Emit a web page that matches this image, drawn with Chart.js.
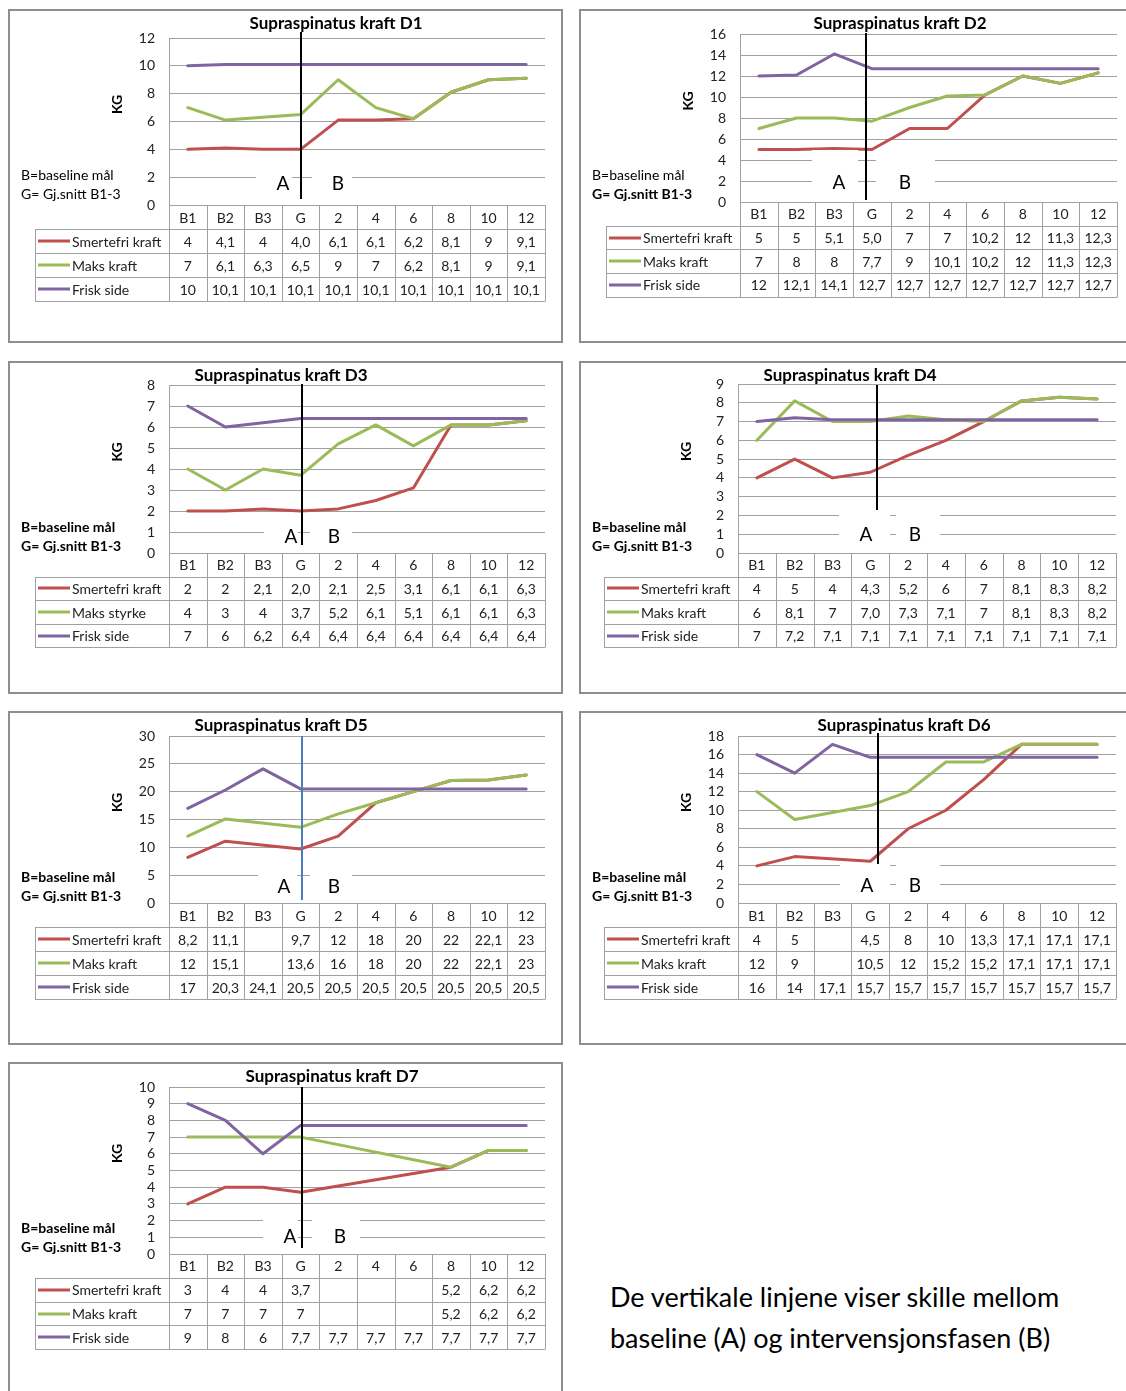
<!DOCTYPE html>
<html><head><meta charset="utf-8">
<script src="https://cdn.jsdelivr.net/npm/chart.js@4.4.1/dist/chart.umd.min.js"></script>
<style>
html,body{margin:0;padding:0;background:#fff;overflow:hidden;width:1126px;height:1391px;position:relative;font-family:Lato,sans-serif}
.panel{position:absolute;box-sizing:border-box;border:2px solid #8e8e8e;background:#fff}
canvas{position:absolute}
#note{position:absolute;left:610px;top:1276px;font-size:27px;line-height:41px;color:#000;white-space:nowrap;font-family:Lato,sans-serif}
</style></head><body>
<div id="note">De vertikale linjene viser skille mellom<br>baseline (A) og intervensjonsfasen (B)</div>
<script>
const categories = ["B1","B2","B3","G","2","4","6","8","10","12"];
const seriesNames = ["Smertefri kraft","Maks kraft","Frisk side"];
const seriesNamesD3 = ["Smertefri kraft","Maks styrke","Frisk side"];
const seriesColors = ["#c0504d","#9bbb59","#8064a2"];

const d1Smertefri = ["4","4,1","4","4,0","6,1","6,1","6,2","8,1","9","9,1"];
const d1Maks      = ["7","6,1","6,3","6,5","9","7","6,2","8,1","9","9,1"];
const d1Frisk     = ["10","10,1","10,1","10,1","10,1","10,1","10,1","10,1","10,1","10,1"];

const d2Smertefri = ["5","5","5,1","5,0","7","7","10,2","12","11,3","12,3"];
const d2Maks      = ["7","8","8","7,7","9","10,1","10,2","12","11,3","12,3"];
const d2Frisk     = ["12","12,1","14,1","12,7","12,7","12,7","12,7","12,7","12,7","12,7"];

const d3Smertefri = ["2","2","2,1","2,0","2,1","2,5","3,1","6,1","6,1","6,3"];
const d3Maks      = ["4","3","4","3,7","5,2","6,1","5,1","6,1","6,1","6,3"];
const d3Frisk     = ["7","6","6,2","6,4","6,4","6,4","6,4","6,4","6,4","6,4"];

const d4Smertefri = ["4","5","4","4,3","5,2","6","7","8,1","8,3","8,2"];
const d4Maks      = ["6","8,1","7","7,0","7,3","7,1","7","8,1","8,3","8,2"];
const d4Frisk     = ["7","7,2","7,1","7,1","7,1","7,1","7,1","7,1","7,1","7,1"];

const d5Smertefri = ["8,2","11,1","","9,7","12","18","20","22","22,1","23"];
const d5Maks      = ["12","15,1","","13,6","16","18","20","22","22,1","23"];
const d5Frisk     = ["17","20,3","24,1","20,5","20,5","20,5","20,5","20,5","20,5","20,5"];

const d6Smertefri = ["4","5","","4,5","8","10","13,3","17,1","17,1","17,1"];
const d6Maks      = ["12","9","","10,5","12","15,2","15,2","17,1","17,1","17,1"];
const d6Frisk     = ["16","14","17,1","15,7","15,7","15,7","15,7","15,7","15,7","15,7"];

const d7Smertefri = ["3","4","4","3,7","","","","5,2","6,2","6,2"];
const d7Maks      = ["7","7","7","7","","","","5,2","6,2","6,2"];
const d7Frisk     = ["9","8","6","7,7","7,7","7,7","7,7","7,7","7,7","7,7"];

const yMaxes = [12,16,8,9,30,18,10];
const ySteps = [2,2,1,1,5,2,1];
const titles = ["Supraspinatus kraft D1","Supraspinatus kraft D2","Supraspinatus kraft D3","Supraspinatus kraft D4","Supraspinatus kraft D5","Supraspinatus kraft D6","Supraspinatus kraft D7"];
const noteLines = ["B=baseline mål","G= Gj.snitt B1-3"];

function num(s){ return s === "" ? null : parseFloat(s.replace(",", ".")); }

const FONT = "Lato";
const gridColor = "#a0a0a0";

function panelPlugin(cfg){
  return {
    id: "panel" + cfg.idx,
    afterDatasetsDraw(chart){
      const ctx = chart.ctx, xs = chart.scales.x, ox = cfg.px, oy = cfg.py;
      ctx.save();
      const gx = Math.round(xs.getPixelForValue(categories.indexOf("G")) + cfg.vline.nudge);
      ctx.strokeStyle = cfg.vline.color; ctx.lineWidth = 2;
      ctx.beginPath(); ctx.moveTo(gx, cfg.vline.top - oy); ctx.lineTo(gx, cfg.vline.bottom - oy); ctx.stroke();
      ctx.fillStyle = "#fff";
      cfg.boxes.forEach(b => ctx.fillRect(b[0]-ox, b[1]-oy, b[2]-b[0], b[3]-b[1]));
      ctx.fillStyle = "#000"; ctx.font = "19px " + FONT; ctx.textAlign = "center"; ctx.textBaseline = "middle";
      ctx.fillText("A", cfg.A[0]-ox, cfg.A[1]-oy);
      ctx.fillText("B", cfg.B[0]-ox, cfg.B[1]-oy);
      ctx.restore();
    },
    afterDraw(chart){
      const ctx = chart.ctx, xs = chart.scales.x, ca = chart.chartArea, ox = cfg.px, oy = cfg.py;
      const n = categories.length, cw = ca.width / n, rh = cfg.rowH, top = ca.bottom;
      const legL = ca.left - 134;
      ctx.save();
      // title
      ctx.fillStyle = "#000"; ctx.font = "bold 17px " + FONT; ctx.textAlign = "center"; ctx.textBaseline = "middle";
      ctx.fillText(cfg.title, cfg.titleX - ox, 15);
      // KG
      ctx.save(); ctx.translate(ca.left - 52, (ca.top + ca.bottom)/2 - 17); ctx.rotate(-Math.PI/2);
      ctx.font = "bold 14px " + FONT; ctx.fillText("KG", 0, 0); ctx.restore();
      // notes
      ctx.textAlign = "left";
      noteLines.forEach((t,i) => {
        ctx.font = (cfg.bold[i] ? "bold " : "") + "14px " + FONT;
        ctx.fillText(t, 13, 166 + i*19);
      });
      // table lines
      ctx.strokeStyle = gridColor; ctx.lineWidth = 1;
      const line = (a,b,c,d) => { ctx.beginPath(); ctx.moveTo(a,b); ctx.lineTo(c,d); ctx.stroke(); };
      for (let i = 0; i <= n; i++){
        const xx = Math.round(xs.getPixelForValue(Math.min(i, n-1)) + (i === n ? cw/2 : -cw/2)) + 0.5;
        line(xx, top, xx, Math.round(top + 4*rh) + 0.5);
      }
      for (let k = 1; k <= 4; k++){
        const yy = Math.round(top + k*rh) + 0.5;
        line(legL, yy, ca.right, yy);
      }
      line(legL + 0.5, Math.round(top + rh), legL + 0.5, Math.round(top + 4*rh) + 0.5);
      // header text
      ctx.fillStyle = "#222"; ctx.font = "14px " + FONT; ctx.textAlign = "center";
      categories.forEach((c,i) => ctx.fillText(c, xs.getPixelForValue(i), top + rh/2 + 1));
      // rows
      cfg.series.forEach((s,k) => {
        const yy = top + (k + 1.5)*rh + 1;
        ctx.strokeStyle = seriesColors[k]; ctx.lineWidth = 3;
        line(legL + 3, Math.round(yy - 1), legL + 35, Math.round(yy - 1));
        ctx.textAlign = "left"; ctx.fillStyle = "#222";
        ctx.fillText(cfg.names[k], legL + 37, yy);
        ctx.textAlign = "center";
        s.forEach((v,i) => { if (v !== "") ctx.fillText(v, xs.getPixelForValue(i), yy); });
      });
      ctx.restore();
    }
  };
}

function makePanel(cfg){
  const div = document.createElement("div"); div.className = "panel";
  Object.assign(div.style, {left: cfg.px+"px", top: cfg.py+"px", width: cfg.w+"px", height: cfg.h+"px"});
  document.body.appendChild(div);
  const cv = document.createElement("canvas");
  cv.width = cfg.w; cv.height = cfg.h;
  Object.assign(cv.style, {left: cfg.px+"px", top: cfg.py+"px", width: cfg.w+"px", height: cfg.h+"px"});
  document.body.appendChild(cv);
  const yAxisW = cfg.plot.l - cfg.px;
  const datasets = cfg.series.map((s,i) => ({
    label: cfg.names[i], data: s.map(num), borderColor: seriesColors[i], backgroundColor: seriesColors[i],
    borderWidth: 3, pointRadius: 0, tension: 0, spanGaps: true, fill: false, order: 3 - i,
    borderJoinStyle: "round", borderCapStyle: "round"
  }));
  new Chart(cv, {
    type: "line",
    data: {labels: categories, datasets},
    options: {
      responsive: false, animation: false, devicePixelRatio: 1, events: [],
      layout: {padding: {left: 0, top: cfg.plot.t - cfg.py, right: cfg.px + cfg.w - cfg.plot.r, bottom: cfg.py + cfg.h - cfg.plot.b}},
      plugins: {legend: {display: false}, tooltip: {enabled: false}, title: {display: false}},
      scales: {
        x: {display: false, offset: true},
        y: {
          min: 0, max: cfg.yMax,
          ticks: {stepSize: cfg.yStep, autoSkip: false, maxTicksLimit: 40, padding: 14, color: "#222", font: {family: FONT, size: 14, lineHeight: 1}},
          grid: {color: gridColor, drawTicks: false, lineWidth: 1},
          border: {display: true, color: gridColor},
          afterFit: (s) => { s.width = yAxisW; }
        }
      }
    },
    plugins: [panelPlugin(cfg)]
  });
}

const panels = [
  {idx:0, px:8, py:9, w:555, h:334, plot:{l:169,r:545,t:38,b:205}, rowH:24, titleX:336,
   series:[d1Smertefri,d1Maks,d1Frisk], names:seriesNames, bold:[false,false],
   vline:{nudge:0, top:32, bottom:199, color:"#000"},
   boxes:[[256,163,292,204],[312,163,352,204]], A:[283,184], B:[338,184]},
  {idx:1, px:579, py:9, w:560, h:334, plot:{l:740,r:1117,t:34,b:202}, rowH:23.7, titleX:900,
   series:[d2Smertefri,d2Maks,d2Frisk], names:seriesNames, bold:[false,true],
   vline:{nudge:-6, top:33, bottom:200, color:"#000"},
   boxes:[[812,150,858,201],[876,150,935,201]], A:[839,183], B:[905,183]},
  {idx:2, px:8, py:361, w:555, h:333, plot:{l:169,r:545,t:385,b:553}, rowH:23.6, titleX:281,
   series:[d3Smertefri,d3Maks,d3Frisk], names:seriesNamesD3, bold:[true,true],
   vline:{nudge:1, top:384, bottom:545, color:"#000"},
   boxes:[[264,520,298,552],[310,520,352,552]], A:[291,537], B:[334,537]},
  {idx:3, px:579, py:361, w:560, h:333, plot:{l:738,r:1116,t:384,b:553}, rowH:23.6, titleX:850,
   series:[d4Smertefri,d4Maks,d4Frisk], names:seriesNames, bold:[true,true],
   vline:{nudge:7, top:385, bottom:552, color:"#000"},
   boxes:[[839,510,890,552],[896,510,940,552]], A:[866,535], B:[915,535]},
  {idx:4, px:8, py:711, w:555, h:334, plot:{l:169,r:545,t:736,b:903}, rowH:24, titleX:281,
   series:[d5Smertefri,d5Maks,d5Frisk], names:seriesNames, bold:[true,true],
   vline:{nudge:1, top:736, bottom:900, color:"#4a7ebb"},
   boxes:[[258,868,297,902],[310,868,352,902]], A:[284,887], B:[334,887]},
  {idx:5, px:579, py:711, w:560, h:334, plot:{l:738,r:1116,t:736,b:903}, rowH:24, titleX:904,
   series:[d6Smertefri,d6Maks,d6Frisk], names:seriesNames, bold:[true,true],
   vline:{nudge:8, top:733, bottom:902, color:"#000"},
   boxes:[[840,864,890,902],[896,864,940,902]], A:[867,886], B:[915,886]},
  {idx:6, px:8, py:1062, w:555, h:340, plot:{l:169,r:545,t:1087,b:1254}, rowH:23.8, titleX:332,
   series:[d7Smertefri,d7Maks,d7Frisk], names:seriesNames, bold:[true,true],
   vline:{nudge:1, top:1087, bottom:1248, color:"#000"},
   boxes:[[263,1212,298,1253],[312,1212,360,1253]], A:[290,1237], B:[340,1237]}
];
panels.forEach((p,i) => { p.title = titles[i]; p.yMax = yMaxes[i]; p.yStep = ySteps[i]; makePanel(p); });
</script>
</body></html>
